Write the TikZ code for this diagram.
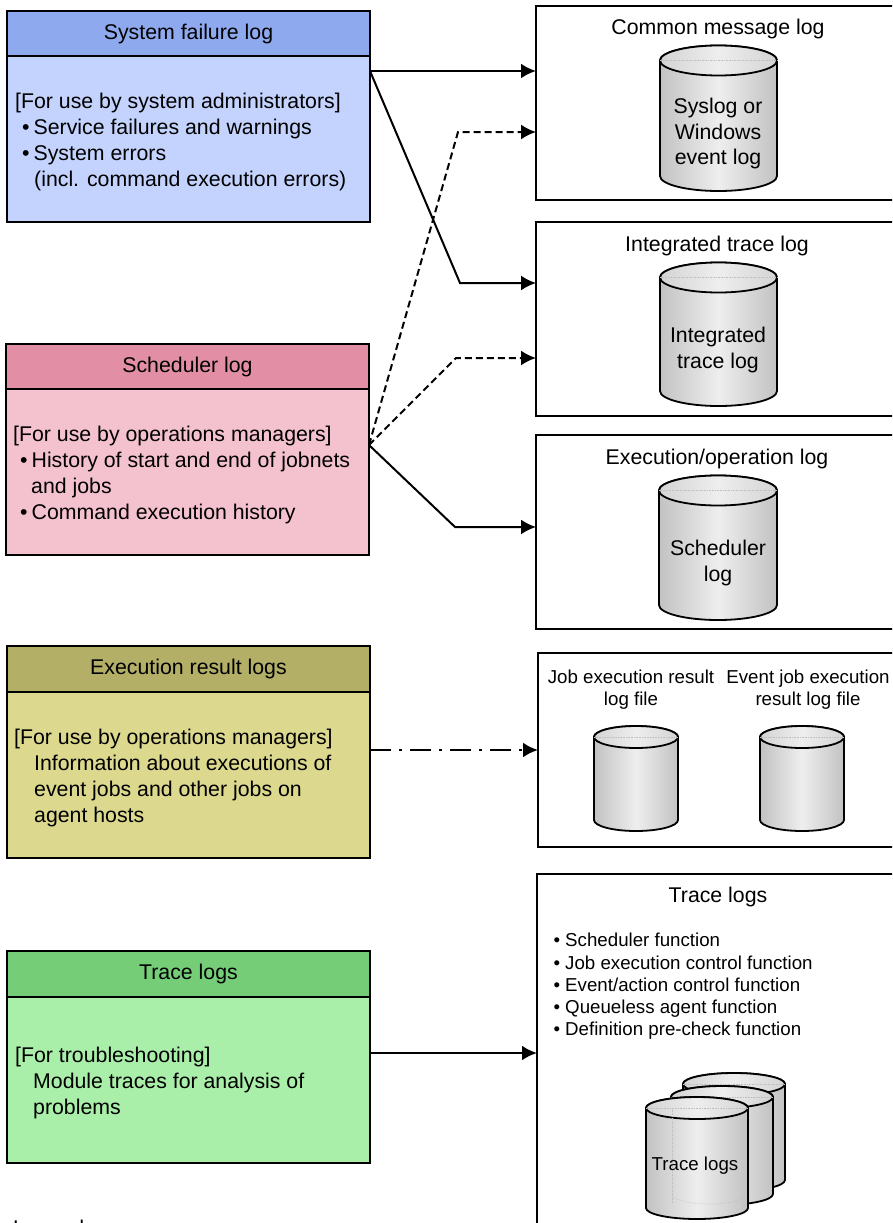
\documentclass[tikz,border=0pt]{standalone}
\usepackage{fontspec}
\setmainfont{Liberation Sans}
\usetikzlibrary{arrows.meta}
\definecolor{hsys}{HTML}{8FA9EE}\definecolor{bsys}{HTML}{C3D3FD}
\definecolor{hsch}{HTML}{E28FA6}\definecolor{bsch}{HTML}{F4C1CF}
\definecolor{hres}{HTML}{B3AF66}\definecolor{bres}{HTML}{DCD98E}
\definecolor{htr}{HTML}{76CD78}\definecolor{btr}{HTML}{A9EFA9}
\definecolor{cyledge}{HTML}{C2C2C2}\definecolor{cylmid}{HTML}{EEEEEE}
\tikzset{
 x=1pt,y=-1pt,
 boxbase/.style={draw=black,line width=2pt,anchor=north west,inner sep=0pt,outer sep=0pt,minimum width=#1},
 head/.style={font=\fontsize{21.3}{26}\selectfont,align=center},
 ltext/.style={anchor=north west,inner sep=0pt,align=left,font=\fontsize{21.3}{25.8}\selectfont},
 ctext/.style={anchor=center,inner sep=0pt,align=center,font=\fontsize{21.3}{25.7}\selectfont},
 stext/.style={anchor=center,inner sep=0pt,align=center,font=\fontsize{18.7}{22}\selectfont},
 arr/.style={line width=#1,-{Latex[length=15pt,width=15pt]},line join=miter},
 arr/.default=2.5pt,
 cylside/.style={draw=black,line width=1.8pt,left color=cyledge,right color=cyledge,middle color=cylmid},
 cyltop/.style={draw=black,line width=1.8pt,left color=cyledge!60!cylmid,right color=cyledge!60!cylmid,middle color=cylmid},
 faint/.style={densely dotted,line width=.6pt,draw=black!25},
}
% x0 x1 topcentre bottomcentre ry
\newcommand{\mycyl}[5]{%
 \path[cylside] (#1,#3) -- (#1,#4) arc[start angle=180,end angle=0,x radius={(#2-#1)/2},y radius=#5] -- (#2,#3) arc[start angle=0,end angle=-180,x radius={(#2-#1)/2},y radius=#5] -- cycle;
 \path[cyltop] ({(#1+#2)/2},#3) ellipse[x radius={(#2-#1)/2},y radius=#5];
 \draw[faint] (#1,#3) -- (#2,#3);
}
\newcommand{\hd}[1]{\raisebox{-3pt}{#1}}
\begin{document}
\begin{tikzpicture}
\useasboundingbox (0,0) rectangle (892,1223);
\begin{scope}
\clip (0,0) rectangle (892,1223);
% left boxes
\node[boxbase=363pt,fill=hsys,minimum height=45pt,head] (syshead) at (7,11) {\hd{System failure log}};
\node[boxbase=363pt,fill=bsys,minimum height=166pt] (sysbody) at (7,56) {};
\node[boxbase=363pt,fill=hsch,minimum height=45pt,head] (schhead) at (6,344) {\hd{Scheduler log}};
\node[boxbase=363pt,fill=bsch,minimum height=166pt] (schbody) at (6,389) {};
\node[boxbase=363pt,fill=hres,minimum height=46pt,head] (reshead) at (7,646) {\hd{Execution result logs}};
\node[boxbase=363pt,fill=bres,minimum height=166pt] (resbody) at (7,692) {};
\node[boxbase=363pt,fill=htr,minimum height=46pt,head] (trhead) at (7,951) {\hd{Trace logs}};
\node[boxbase=363pt,fill=btr,minimum height=166pt] (trbody) at (7,997) {};
% left texts
\node[ltext] (systext) at (15,93) {[For use by system administrators]\\\hspace*{7pt}•\hspace{4pt}Service failures and warnings\\\hspace*{7pt}•\hspace{4pt}System errors\\\hspace*{19pt}(incl. command execution errors)};
\node[ltext] (schtext) at (13,426) {[For use by operations managers]\\\hspace*{7pt}•\hspace{4pt}History of start and end of jobnets\\\hspace*{18pt}and jobs\\\hspace*{7pt}•\hspace{4pt}Command execution history};
\node[ltext] (restext) at (14,729) {[For use by operations managers]\\\hspace*{20pt}Information about executions of\\\hspace*{20pt}event jobs and other jobs on\\\hspace*{20pt}agent hosts};
\node[ltext] (trtext) at (15,1047) {[For troubleshooting]\\\hspace*{18pt}Module traces for analysis of\\\hspace*{18pt}problems};
% right boxes
\node[boxbase=364pt,minimum height=194pt] (cml) at (536,6) {};
\node[boxbase=364pt,minimum height=194pt] (itl) at (536,222) {};
\node[boxbase=364pt,minimum height=194pt] (eol) at (536,435) {};
\node[boxbase=362pt,minimum height=194pt] (erl) at (538,653) {};
\node[boxbase=363pt,minimum height=366pt] (tlb) at (537,874) {};
% titles
\node[ctext] (t1) at (718,29) {Common message log};
\node[ctext] (t2) at (717,246) {Integrated trace log};
\node[ctext] (t3) at (717,459) {Execution/operation log};
\node[stext] (t4) at (631,690) {Job execution result\\log file};
\node[stext] (t5) at (808,690) {Event job execution\\result log file};
\node[ctext] (t6) at (718,897) {Trace logs};
\node[anchor=north west,inner sep=0pt,align=left,font=\fontsize{18.7}{22.3}\selectfont] (t7) at (553.5,933) {•\hspace{5pt}Scheduler function\\•\hspace{5pt}Job execution control function\\•\hspace{5pt}Event/action control function\\•\hspace{5pt}Queueless agent function\\•\hspace{5pt}Definition pre-check function};
% cylinders
\mycyl{660}{777}{60.5}{176}{15}
\mycyl{660}{777}{277.5}{391}{15}
\mycyl{659}{777}{490.5}{605}{15}
\mycyl{594}{678}{737}{820}{11}
\mycyl{760}{844}{737}{820}{11}
\mycyl{683}{785}{1084}{1180}{11}
\mycyl{671}{773}{1097}{1194}{11}
\mycyl{646}{748}{1108}{1208}{11}
\draw[faint] (672,1108) -- (672,1204);
\draw[faint] (672,1194) arc[start angle=180,end angle=0,x radius=37.5,y radius=10];
\node[ctext] (c1) at (718,133.5) {Syslog or\\Windows\\event log};
\node[ctext] (c2) at (718,350) {Integrated\\trace log};
\node[ctext] (c3) at (718,563) {Scheduler\\log};
\node[stext] (c4) at (695,1166) {Trace logs};
% connector levels
\coordinate (ya) at (0,71);
\coordinate (yb) at (0,132);
\coordinate (yc) at (0,283);
\coordinate (yd) at (0,358);
\coordinate (ye) at (0,527);
\coordinate (yf) at (0,750);
\coordinate (yg) at (0,1053);
\coordinate (ys) at (0,445);
\coordinate (b1) at (460,283);
\coordinate (b2) at (458,132);
\coordinate (b3) at (456,358);
\coordinate (b4) at (455,527);
% connectors
\draw[arr] (sysbody.east |- ya) -- (cml.west |- ya);
\draw[arr=2pt] (sysbody.east |- ya) -- (b1) -- (itl.west |- yc);
\draw[arr=2pt,dash pattern=on 7pt off 4pt] (schbody.east |- ys) -- (b2) -- (cml.west |- yb);
\draw[arr=2pt,dash pattern=on 7pt off 4pt] (schbody.east |- ys) -- (b3) -- (itl.west |- yd);
\draw[arr=2pt] (schbody.east |- ys) -- (b4) -- (eol.west |- ye);
\draw[arr,dash pattern=on 21pt off 8pt on 3pt off 8pt] (resbody.east |- yf) -- (erl.west |- yf);
\draw[arr] (trbody.east |- yg) -- (tlb.west |- yg);
\node[anchor=base west,inner sep=0pt,font=\fontsize{21.3}{26}\selectfont] (legend) at (13,1235) {Legend:};
\end{scope}
\end{tikzpicture}
\end{document}
